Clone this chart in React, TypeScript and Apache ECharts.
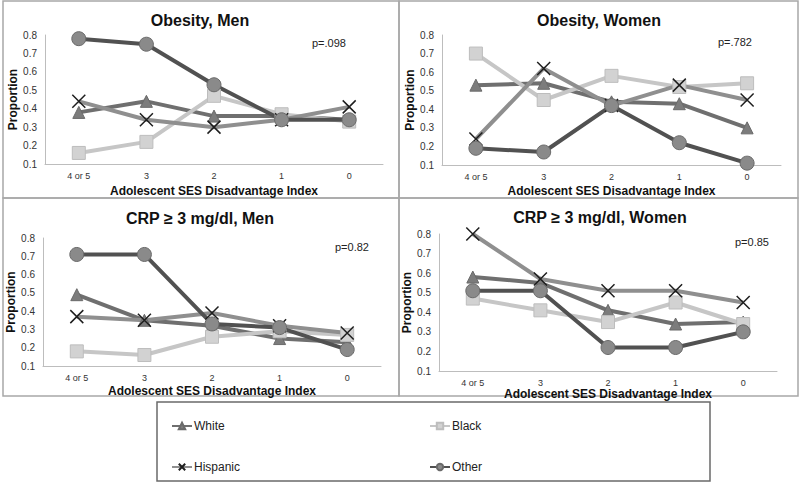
import React, { useEffect, useRef } from "react";
import * as echarts from "echarts";

const categories = ["4 or 5", "3", "2", "1", "0"];
const yTicks = [0.1, 0.2, 0.3, 0.4, 0.5, 0.6, 0.7, 0.8];
const groups = ["White", "Black", "Hispanic", "Other"];

const panelTitles = ["Obesity, Men", "Obesity, Women", "CRP \u2265 3 mg/dl, Men", "CRP \u2265 3 mg/dl, Women"];
const pValues = ["p=.098", "p=.782", "p=0.82", "p=0.85"];

// Obesity, Men
const obMenWhite = [0.38, 0.44, 0.36, 0.36, 0.34];
const obMenBlack = [0.16, 0.22, 0.47, 0.37, 0.33];
const obMenHispanic = [0.44, 0.34, 0.30, 0.34, 0.41];
const obMenOther = [0.78, 0.75, 0.53, 0.34, 0.34];

// Obesity, Women
const obWomenWhite = [0.53, 0.54, 0.44, 0.43, 0.30];
const obWomenBlack = [0.70, 0.45, 0.58, 0.52, 0.54];
const obWomenHispanic = [0.24, 0.62, 0.42, 0.53, 0.45];
const obWomenOther = [0.19, 0.17, 0.42, 0.22, 0.11];

// CRP >= 3 mg/dl, Men
const crpMenWhite = [0.49, 0.35, 0.32, 0.25, 0.23];
const crpMenBlack = [0.18, 0.16, 0.26, 0.29, 0.27];
const crpMenHispanic = [0.37, 0.35, 0.39, 0.32, 0.28];
const crpMenOther = [0.71, 0.71, 0.33, 0.31, 0.19];

// CRP >= 3 mg/dl, Women
const crpWomenWhite = [0.58, 0.55, 0.41, 0.34, 0.35];
const crpWomenBlack = [0.47, 0.41, 0.35, 0.45, 0.34];
const crpWomenHispanic = [0.80, 0.57, 0.51, 0.51, 0.45];
const crpWomenOther = [0.51, 0.51, 0.22, 0.22, 0.30];

const panelData = [
  [obMenWhite, obMenBlack, obMenHispanic, obMenOther],
  [obWomenWhite, obWomenBlack, obWomenHispanic, obWomenOther],
  [crpMenWhite, crpMenBlack, crpMenHispanic, crpMenOther],
  [crpWomenWhite, crpWomenBlack, crpWomenHispanic, crpWomenOther],
];

const grids = [
  { left: 45, top: 35, width: 338, height: 129 },
  { left: 442, top: 35, width: 339, height: 130 },
  { left: 43, top: 238, width: 338, height: 128 },
  { left: 439, top: 234, width: 338, height: 137 },
];
const xNameGaps = [21, 20, 19, 14];
const yNameGaps = [21, 22, 23, 20];

const titlePos = [
  { x: 200, y: 20 },
  { x: 599, y: 20 },
  { x: 200, y: 218 },
  { x: 600, y: 217 },
];
const pPos = [
  { x: 312, y: 43 },
  { x: 718, y: 42 },
  { x: 335, y: 247 },
  { x: 735, y: 242 },
];

const styles = [
  { line: "#6f6f6f", fill: "#7c7c7c", border: "#6a6a6a", symbol: "triangle", size: 12, bw: 1 },
  { line: "#c6c6c6", fill: "#d2d2d2", border: "#bdbdbd", symbol: "rect", size: 13, bw: 1 },
  { line: "#8f8f8f", fill: "none", border: "#1e1e1e", symbol: "path://M0,0L10,10M10,0L0,10", size: 13, bw: 1.5 },
  { line: "#515151", fill: "#8a8a8a", border: "#6a6a6a", symbol: "circle", size: 14, bw: 1 },
];

export default function App() {
  const ref = useRef<HTMLDivElement>(null);
  useEffect(() => {
    if (!ref.current) return;
    const chart = echarts.init(ref.current, null, { renderer: "svg" });
    const font = "Liberation Sans, Arial, sans-serif";

    const xAxis = grids.map((_, i) => ({
      type: "category",
      gridIndex: i,
      data: categories,
      boundaryGap: true,
      axisLine: { lineStyle: { color: "#bdbdbd", width: 1 } },
      axisTick: { show: false },
      axisLabel: { color: "#333", fontSize: 9, fontFamily: font, margin: 7 },
      name: "Adolescent SES Disadvantage Index",
      nameLocation: "middle",
      nameGap: xNameGaps[i],
      nameTextStyle: { color: "#111", fontSize: 12, fontWeight: "bold", fontFamily: font },
    }));
    const yAxis = grids.map((_, i) => ({
      type: "value",
      gridIndex: i,
      min: yTicks[0],
      max: yTicks[yTicks.length - 1],
      interval: 0.1,
      splitLine: { show: false },
      axisLine: { show: true, lineStyle: { color: "#bdbdbd", width: 1 } },
      axisTick: { show: false },
      axisLabel: {
        color: "#333",
        fontSize: 10,
        fontFamily: font,
        margin: 8,
        formatter: (v: number) => v.toFixed(1),
      },
      name: "Proportion",
      nameLocation: "middle",
      nameGap: yNameGaps[i],
      nameTextStyle: { color: "#111", fontSize: 12, fontWeight: "bold", fontFamily: font },
    }));

    const series: any[] = [];
    panelData.forEach((panel, p) => {
      panel.forEach((vals, g) => {
        const s = styles[g];
        series.push({
          name: groups[g],
          type: "line",
          xAxisIndex: p,
          yAxisIndex: p,
          data: vals,
          symbol: s.symbol,
          symbolSize: s.size,
          lineStyle: { color: s.line, width: 4 },
          itemStyle: { color: s.fill, borderColor: s.border, borderWidth: s.bw },
          emphasis: { disabled: true },
        });
      });
    });

    const legendPos = [
      { left: 166, top: 415 },
      { left: 424, top: 415 },
      { left: 166, top: 456 },
      { left: 424, top: 456 },
    ];
    const legend = groups.map((g, i) => ({
      data: [g],
      left: legendPos[i].left,
      top: legendPos[i].top,
      itemWidth: 20,
      itemHeight: 8,
      itemGap: 2,
      textStyle: { color: "#222", fontSize: 12, fontFamily: font, padding: [0, 0, 0, -3] },
      selectedMode: false,
    }));

    const graphic: any[] = [
      { type: "rect", shape: { x: 3, y: 1, width: 396, height: 197 }, style: { fill: "none", stroke: "#a8a8a8", lineWidth: 1.5 }, silent: true },
      { type: "rect", shape: { x: 399, y: 1, width: 399, height: 197 }, style: { fill: "none", stroke: "#a8a8a8", lineWidth: 1.5 }, silent: true },
      { type: "rect", shape: { x: 3, y: 198, width: 396, height: 198 }, style: { fill: "none", stroke: "#a8a8a8", lineWidth: 1.5 }, silent: true },
      { type: "rect", shape: { x: 399, y: 198, width: 399, height: 198 }, style: { fill: "none", stroke: "#a8a8a8", lineWidth: 1.5 }, silent: true },
      { type: "rect", shape: { x: 157, y: 402, width: 553, height: 79 }, style: { fill: "none", stroke: "#6a6a6a", lineWidth: 1.5 }, silent: true },
    ];
    panelTitles.forEach((t, i) => {
      graphic.push({
        type: "text",
        x: titlePos[i].x,
        y: titlePos[i].y,
        style: { text: t, fill: "#111", font: `bold 16px ${font}`, textAlign: "center", textVerticalAlign: "middle" },
        silent: true,
      });
      graphic.push({
        type: "text",
        x: pPos[i].x,
        y: pPos[i].y,
        style: { text: pValues[i], fill: "#222", font: `11px ${font}`, textAlign: "left", textVerticalAlign: "middle" },
        silent: true,
      });
    });

    chart.setOption({
      animation: false,
      backgroundColor: "#ffffff",
      grid: grids.map((g) => ({ ...g, containLabel: false })),
      xAxis,
      yAxis,
      series,
      legend,
      graphic,
    });
    return () => chart.dispose();
  }, []);
  return <div ref={ref} style={{ width: 800, height: 483, position: "absolute", left: 0, top: 0 }} />;
}
